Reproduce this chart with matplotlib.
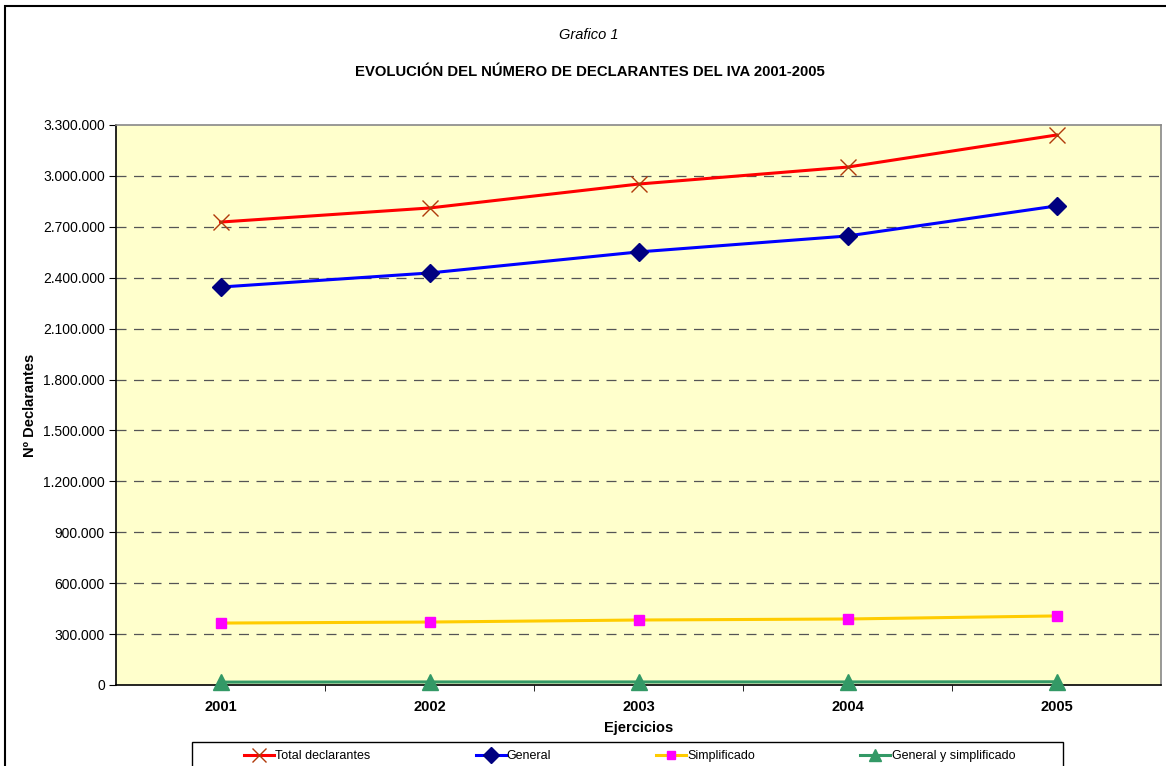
import numpy as np
import matplotlib.pyplot as plt
from matplotlib.patches import Rectangle
from matplotlib.ticker import FuncFormatter

plt.rcParams['font.family'] = ['Liberation Sans', 'DejaVu Sans']

# data
years = ['2001', '2002', '2003', '2004', '2005']
total = [2728000, 2811000, 2952000, 3052000, 3241000]
general = [2345000, 2428000, 2552000, 2646000, 2823000]
simplificado = [365000, 371000, 383000, 389000, 407000]
gen_simpl = [17000, 18000, 18000, 18000, 19000]
y_ticks = np.arange(0, 3300001, 300000)

fig = plt.figure(figsize=(11.66, 7.66), dpi=100)

# outer frame of the chart
fig.patches.append(Rectangle((5 / 1166, -0.1), 1.2, 1 - 6 / 766 + 0.1,
                             transform=fig.transFigure, fill=False,
                             edgecolor='black', linewidth=1.5))

ax = fig.add_axes([116 / 1166, 1 - 685 / 766, 1045 / 1166, 560 / 766])
ax.set_facecolor('#FFFFCC')

x = np.arange(len(years))
ax.plot(x, total, color='#FF0000', lw=2.2, marker='x', ms=12, mew=1.0,
        mec='#B03A0A', label='Total declarantes', zorder=4)
ax.plot(x, general, color='#0000FF', lw=2.2, marker='D', ms=9,
        mfc='#000080', mec='#000080', label='General', zorder=4)
ax.plot(x, simplificado, color='#FFCC00', lw=2.2, marker='s', ms=6.5,
        mfc='#FF00FF', mec='#FF00FF', label='Simplificado', zorder=4)
ax.plot(x, gen_simpl, color='#339966', lw=2.2, marker='^', ms=11,
        mfc='#339966', mec='#339966', label='General y simplificado',
        zorder=5, clip_on=False)

ax.set_xlim(-0.5, len(years) - 0.5)
ax.set_ylim(0, 3300000)
ax.set_yticks(y_ticks)
ax.yaxis.set_major_formatter(FuncFormatter(lambda v, p: f'{int(v):,}'.replace(',', '.')))
ax.set_xticks(x)
ax.set_xticklabels(years, fontweight='bold', fontsize=10.5)
ax.set_xticks(np.arange(0.5, len(years) - 0.5, 1), minor=True)
ax.tick_params(axis='x', which='major', length=0, pad=11)
ax.tick_params(axis='x', which='minor', length=4, direction='out', color='black')
ax.tick_params(axis='y', length=5, direction='out', labelsize=10, pad=3)

for v in y_ticks[1:-1]:
    ax.axhline(v, color='#555555', lw=0.9, ls=(0, (8, 6)), zorder=1)

for side in ['top', 'right']:
    ax.spines[side].set_color('#888888')
    ax.spines[side].set_linewidth(1.2)
for side in ['left', 'bottom']:
    ax.spines[side].set_color('black')
    ax.spines[side].set_linewidth(1.2)

ax.set_ylabel('Nº Declarantes', fontweight='bold', fontsize=10.5, labelpad=4)
ax.set_xlabel('Ejercicios', fontweight='bold', fontsize=10.5, labelpad=5)

fig.text(589 / 1166, 1 - 35 / 766, 'Grafico 1', ha='center', va='center',
         fontstyle='italic', fontsize=10.5)
fig.text(590 / 1166, 1 - 72 / 766, 'EVOLUCIÓN DEL NÚMERO DE DECLARANTES DEL IVA 2001-2005',
         ha='center', va='center', fontweight='bold', fontsize=10.7)

# legend box (runs off the bottom edge like the original)
fig.patches.append(Rectangle((192 / 1166, -0.05), 871 / 1166, 0.05 + 1 - 742 / 766,
                             transform=fig.transFigure, facecolor='white',
                             edgecolor='black', linewidth=1.0, zorder=3))
leg = fig.legend(loc='center left', bbox_to_anchor=(244 / 1166, 1 - 756 / 766),
                 ncol=4, fontsize=9, frameon=False,
                 handlelength=2.4, handletextpad=0.1, columnspacing=8.4,
                 borderpad=0, borderaxespad=0, markerscale=0.85)
leg.set_zorder(4)

fig.savefig('out.png', dpi=100)
